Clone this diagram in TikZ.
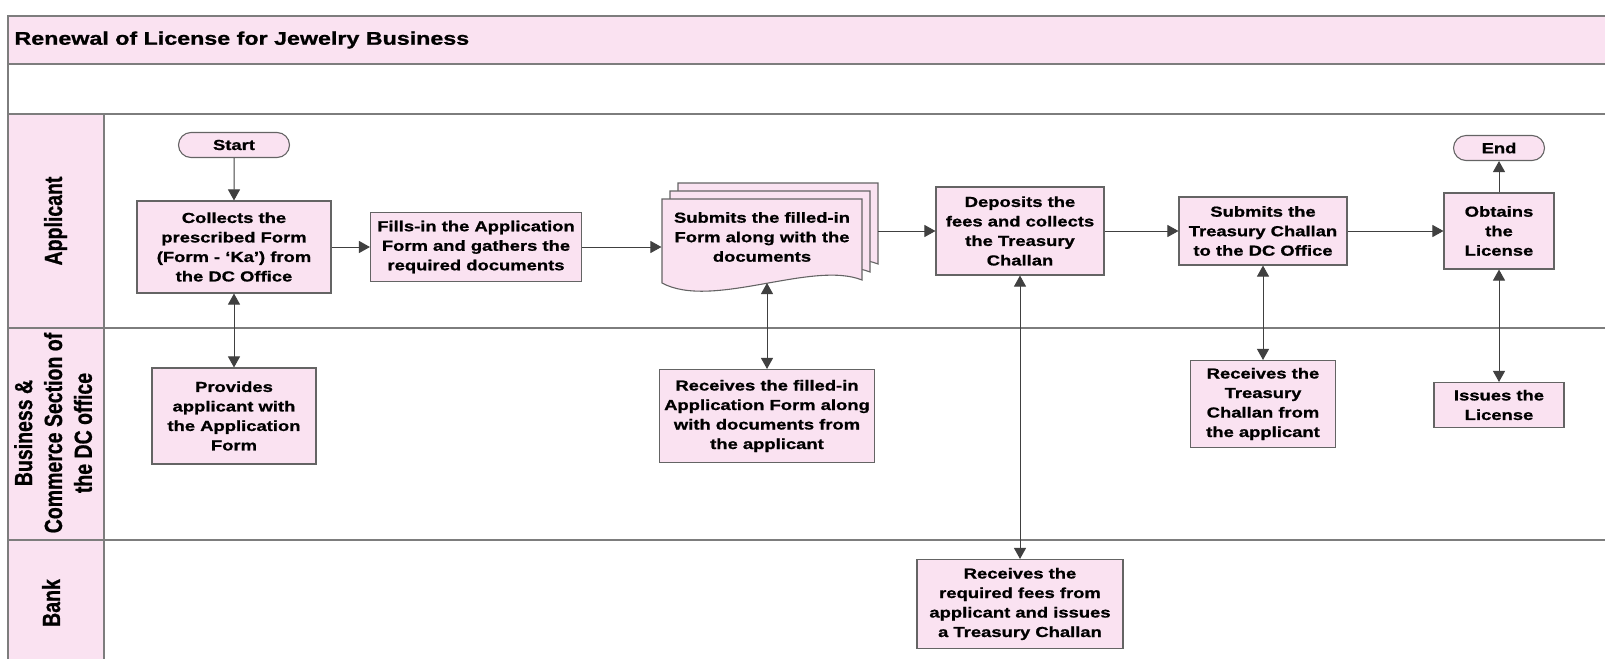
\documentclass[tikz,border=0pt]{standalone}
\usepackage{fontspec}
\setmainfont{Liberation Sans}[FakeStretch=1.27,BoldFeatures={FakeBold=1}]
\newfontfamily\lanefont{Liberation Sans}[BoldFeatures={FakeBold=1}]
\usetikzlibrary{arrows.meta,calc,positioning,shapes.misc}
\definecolor{lnpink}{RGB}{250,226,241}
\definecolor{lngray}{RGB}{125,125,125}
\definecolor{bxgray}{RGB}{100,100,100}
\newcommand{\lanetext}[1]{\scalebox{1}[1.27]{\begin{tabular}{@{}c@{}}#1\end{tabular}}}

\begin{document}
\begin{tikzpicture}[x=1pt,y=-1pt,>={Triangle[length=11pt,width=12pt]},
    act/.style={draw=bxgray,line width=1.1pt,fill=lnpink,align=center,inner sep=1pt,
      font=\bfseries\fontsize{14.5}{19.5}\selectfont},
    term/.style={act,rounded rectangle,minimum height=25pt},
    lane/.style={rotate=90,inner sep=0pt,font=\lanefont\bfseries\fontsize{19.5}{23.5}\selectfont},
    flow/.style={->,draw=black!75,line width=1pt},
    both/.style={<->,draw=black!75,line width=1pt}]
  \useasboundingbox (0,0) rectangle (1605,659);
  \fill[lnpink] (8,16) rectangle (1605,64);
  \fill[lnpink] (8,114) rectangle (104,659);
  \draw[lngray,line width=1.4pt] (1605,16) -- (8,16) -- (8,659);
  \draw[lngray,line width=1.2pt] (104,114) -- (104,659);
  \foreach \yy in {64,114,328,540} \draw[lngray,line width=1.3pt] (8,\yy) -- (1605,\yy);
  \node[anchor=west,font=\bfseries\fontsize{18.3}{22}\selectfont] (title) at (11,40) {Renewal of License for Jewelry Business};
  \node[lane] (ln1) at (56,221) {\lanetext{Applicant}};
  \node[lane] (ln2) at (56,433) {\lanetext{Business \&\\Commerce Section of\\the DC office}};
  \node[lane] (ln3) at (54,603) {\lanetext{Bank}};

  \node[term,minimum width=113pt] (start) at (234,145) {Start};
  \node[act,minimum width=194pt,minimum height=92pt] (collect) at (234,247) {Collects the\\prescribed Form\\(Form - `Ka') from\\the DC Office};
  \node[act,minimum width=211pt,minimum height=69pt] (fills) at (476,247) {Fills-in the Application\\Form and gathers the\\required documents};
  \coordinate (docnw) at (662,199);
  \coordinate (docse) at (862,275);
  \foreach \d in {16,8,0}
    \filldraw[draw=bxgray,line width=1.1pt,fill=lnpink]
      ($(docnw)+(\d,-\d)$) -- ($(docnw -| docse)+(\d,-\d)$) -- ($(docse)+(\d,5-\d)$)
      .. controls ($(docse)+(\d-50,-15-\d)$) and ($(docse)+(\d-150,35-\d)$) .. ($(docnw |- docse)+(\d,8-\d)$) -- cycle;
  \node[act,draw=none,fill=none,minimum width=200pt,minimum height=76pt] (sub) at ($(docnw)!.5!(docse)$) {Submits the filled-in\\Form along with the\\documents};
  \coordinate (docout) at ($(docse)+(16,0)$);
  \coordinate (docfoot) at (767,283);
  \node[act,minimum width=168pt,minimum height=88pt] (deposit) at (1020,231) {Deposits the\\fees and collects\\the Treasury\\Challan};
  \node[act,minimum width=168pt,minimum height=68pt] (submittc) at (1263,231) {Submits the\\Treasury Challan\\to the DC Office};
  \node[act,minimum width=110pt,minimum height=76pt] (obtain) at (1499,231) {Obtains\\the\\License};
  \node[term,minimum width=93pt] (finish) at (1499,148) {End};

  \node[act,minimum width=164pt,minimum height=96pt] (provide) at (234,416) {Provides\\applicant with\\the Application\\Form};
  \node[act,minimum width=215pt,minimum height=93pt] (recv) at (767,416) {Receives the filled-in\\Application Form along\\with documents from\\the applicant};
  \node[act,minimum width=145pt,minimum height=87pt] (recvtc) at (1263,404) {Receives the\\Treasury\\Challan from\\the applicant};
  \node[act,minimum width=130pt,minimum height=45pt] (issue) at (1499,405) {Issues the\\License};
  \node[act,minimum width=206pt,minimum height=89pt] (bank) at (1020,604) {Receives the\\required fees from\\applicant and issues\\a Treasury Challan};

  \draw[flow] (start) -- (collect);
  \draw[flow] (collect) -- (fills);
  \draw[flow] (fills.east) -- (fills.east -| sub.west);
  \draw[flow] (docout |- deposit.west) -- (deposit.west);
  \draw[flow] (deposit) -- (submittc);
  \draw[flow] (submittc) -- (obtain);
  \draw[flow] (obtain) -- (finish);
  \draw[both] (collect) -- (provide);
  \draw[both] (docfoot) -- (recv);
  \draw[both] (deposit) -- (bank);
  \draw[both] (submittc) -- (recvtc);
  \draw[both] (obtain) -- (issue);
\end{tikzpicture}
\end{document}
